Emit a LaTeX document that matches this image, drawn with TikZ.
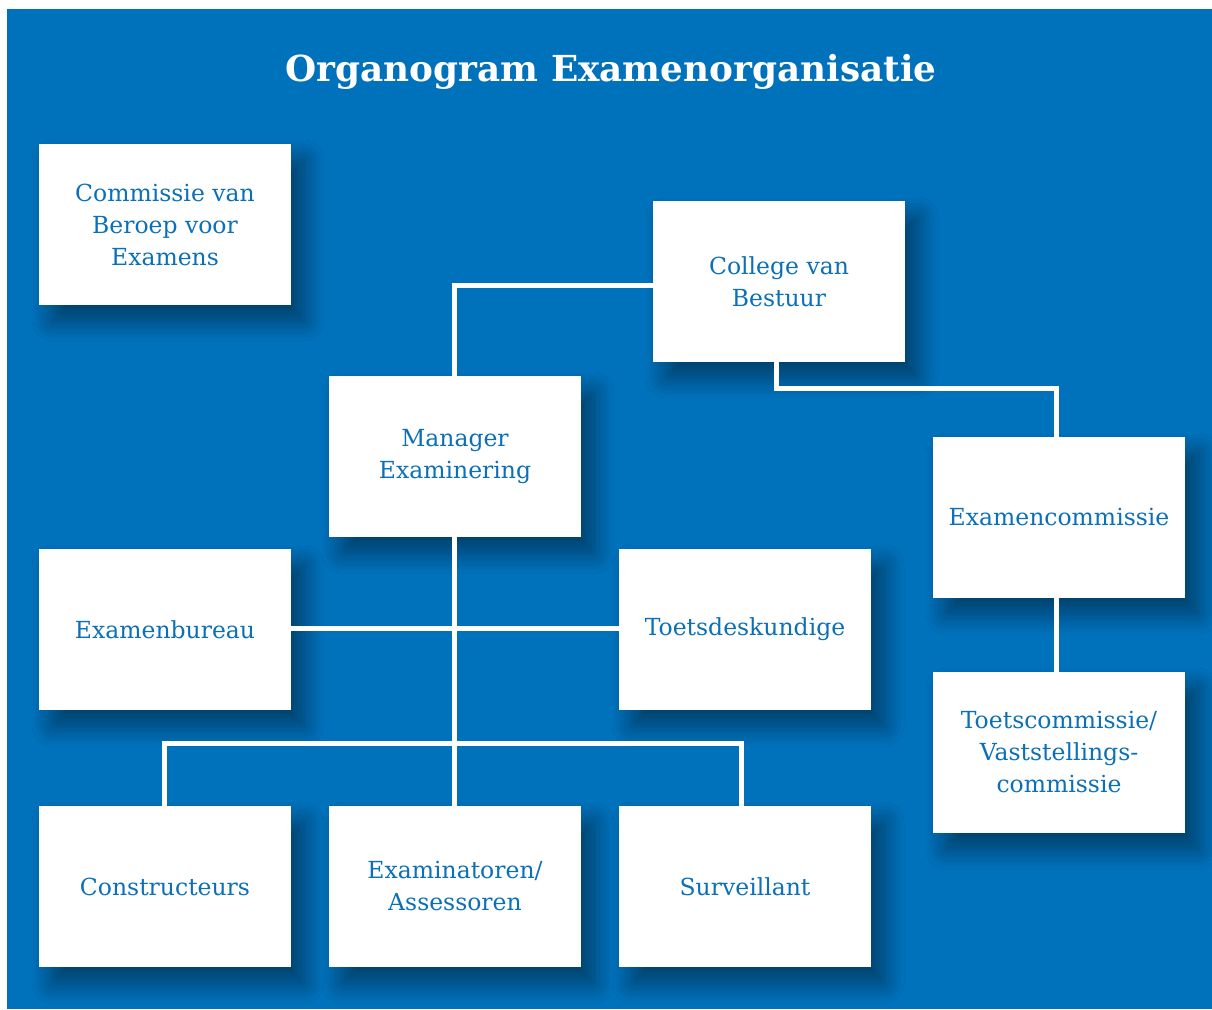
\documentclass[tikz,border=0pt]{standalone}
\usepackage{fontspec}
\setmainfont{DejaVu Serif}
\usetikzlibrary{shadows.blur}
\definecolor{bgblue}{HTML}{0071BB}
\definecolor{txtblue}{HTML}{0B70B7}
\tikzset{
  orgbox/.style={fill=white, minimum width=252pt, minimum height=161pt, inner sep=0pt,
    text=txtblue, align=center, font=\fontsize{23.5}{32}\selectfont,
    blur shadow={shadow xshift=13pt, shadow yshift=-16pt, shadow blur radius=20pt, shadow opacity=45, shadow blur steps=16}},
  conn/.style={draw=white, line width=5pt}
}
\begin{document}
\begin{tikzpicture}[x=1pt,y=-1pt]
\useasboundingbox (0,0) rectangle (1212,1009);
\fill[white] (0,0) rectangle (1212,1009);
\fill[bgblue] (7,9) rectangle (1212,1009);
\node[text=white, font=\bfseries\fontsize{35.8}{42}\selectfont] (title) at (611,72) {Organogram Examenorganisatie};

\coordinate (cbL) at (653,285);
\coordinate (k1) at (454,285);
\coordinate (k2) at (776,388);
\coordinate (k3) at (1056,388);
\coordinate (hL) at (164,743);
\coordinate (hR) at (741,743);
\coordinate (hM) at (454,743);

\node[orgbox] (cvb) at (165,224.5) {Commissie van\\Beroep voor\\Examens};
\node[orgbox] (cob) at (779,281.5) {College van\\Bestuur};
\node[orgbox] (man) at (455,456.5) {Manager\\Examinering};
\node[orgbox] (exc) at (1059,517.5) {Examencommissie};
\node[orgbox] (exb) at (165,629.5) {Examenbureau};
\node[orgbox] (tdk) at (745,629.5) {Toetsdeskundige};
\node[orgbox] (tcm) at (1059,752.5) {Toetscommissie/\\Vaststellings-\\commissie};
\node[orgbox] (con) at (165,886.5) {Constructeurs};
\node[orgbox] (exa) at (455,886.5) {Examinatoren/\\Assessoren};
\node[orgbox] (sur) at (745,886.5) {Surveillant};

\draw[conn] (cob.west |- cbL) -- (k1) -- (k1 |- man.north);
\draw[conn] (k2 |- cob.south) -- (k2) -- (k3) -- (k3 |- exc.north);
\draw[conn] (k3 |- exc.south) -- (k3 |- tcm.north);
\draw[conn] (man.south -| hM) -- (hM |- exa.north);
\draw[conn] (exb.east |- 0,628) -- (tdk.west |- 0,628);
\draw[conn] (hL |- con.north) -- (hL) -- (hR) -- (hR |- sur.north);
\end{tikzpicture}
\end{document}
